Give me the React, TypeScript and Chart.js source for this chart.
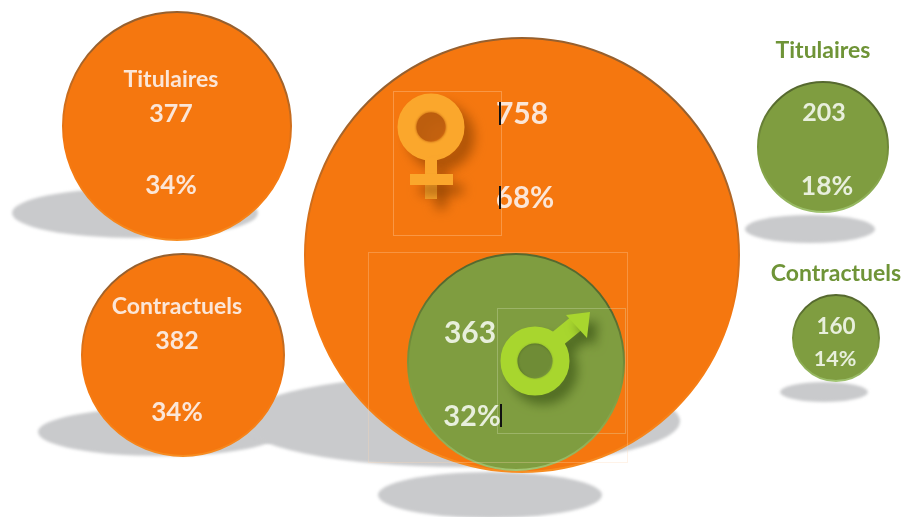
import React, { useEffect, useRef } from "react";
import { Chart, registerables } from "chart.js";

Chart.register(...registerables);

const WIDTH = 902;
const HEIGHT = 517;

// Orange group (women): total, civil servants, contract staff
const femaleLabels = ["Femmes", "Titulaires", "Contractuels"];
const femaleCounts = [758, 377, 382];
const femaleShares = ["68%", "34%", "34%"];
const femaleX = [522, 177, 183];
const femaleY = [255, 126, 355];
const femaleR = [217, 114, 101];

// Green group (men): total, civil servants, contract staff
const maleLabels = ["Hommes", "Titulaires", "Contractuels"];
const maleCounts = [363, 203, 160];
const maleShares = ["32%", "18%", "14%"];
const maleX = [516, 823, 836];
const maleY = [362, 147, 338];
const maleR = [108, 65, 43];

const FONT = "Lato, 'Open Sans', sans-serif";
const ORANGE = "#f5770f";
const GREEN = "#7f9d40";
const ON_ORANGE = "#fbe6d8";
const ON_GREEN = "#e8efdc";
const TITLE_GREEN = "#6f9437";

type Txt = { t: string; x: number; y: number; s: number; c: string };

const texts: Txt[] = [
  { t: femaleLabels[1], x: 171, y: 80, s: 23, c: ON_ORANGE },
  { t: String(femaleCounts[1]), x: 171, y: 114, s: 25, c: ON_ORANGE },
  { t: femaleShares[1], x: 171, y: 186, s: 26, c: ON_ORANGE },
  { t: femaleLabels[2], x: 177, y: 307, s: 23, c: ON_ORANGE },
  { t: String(femaleCounts[2]), x: 177, y: 341, s: 25, c: ON_ORANGE },
  { t: femaleShares[2], x: 177, y: 413, s: 26, c: ON_ORANGE },
  { t: String(femaleCounts[0]), x: 522, y: 114, s: 30, c: ON_ORANGE },
  { t: femaleShares[0], x: 525, y: 198, s: 29.5, c: ON_ORANGE },
  { t: String(maleCounts[0]), x: 470, y: 333, s: 30, c: ON_GREEN },
  { t: maleShares[0], x: 472, y: 417, s: 29, c: ON_GREEN },
  { t: String(maleCounts[1]), x: 824, y: 113, s: 25, c: ON_GREEN },
  { t: maleShares[1], x: 827, y: 186, s: 26.5, c: ON_GREEN },
  { t: String(maleCounts[2]), x: 836, y: 327, s: 22.5, c: ON_GREEN },
  { t: maleShares[2], x: 835, y: 359, s: 21.5, c: ON_GREEN },
  { t: maleLabels[1], x: 823, y: 51, s: 23, c: TITLE_GREEN },
  { t: maleLabels[2], x: 836, y: 274, s: 23, c: TITLE_GREEN },
];

const shadows = [
  [135, 213, 123, 25],
  [160, 432, 122, 24],
  [460, 421, 220, 46],
  [490, 495, 112, 23],
  [810, 229, 65, 14],
  [824, 392, 44, 10],
];

const boxes = [
  [393, 91, 108, 144, "rgba(255,200,150,0.4)"],
  [368, 252, 259, 210, "rgba(255,215,180,0.3)"],
  [497, 308, 128, 125, "rgba(225,235,200,0.3)"],
];

const carets = [
  [500, 102, 125],
  [500, 186, 209],
  [501, 404, 427],
];

function rim(ctx: CanvasRenderingContext2D, cx: number, cy: number, dark: string, mid: string, light: string) {
  const g = ctx.createConicGradient(-Math.PI * 0.75, cx, cy);
  g.addColorStop(0, dark);
  g.addColorStop(0.3, dark);
  g.addColorStop(0.42, mid);
  g.addColorStop(0.62, light);
  g.addColorStop(0.85, mid);
  g.addColorStop(1, dark);
  return g;
}

function drawFemale(ctx: CanvasRenderingContext2D) {
  ctx.save();
  ctx.filter = "blur(0.6px)";
  ctx.shadowColor = "rgba(130,60,0,0.6)";
  ctx.shadowBlur = 12;
  ctx.shadowOffsetX = 10;
  ctx.shadowOffsetY = 10;
  ctx.strokeStyle = "#fba72c";
  ctx.fillStyle = "#fba72c";
  ctx.lineWidth = 19;
  ctx.beginPath();
  ctx.arc(431, 127, 24, 0, Math.PI * 2);
  ctx.stroke();
  ctx.fillRect(425, 158, 12, 41);
  ctx.fillRect(410, 174, 43, 11);
  ctx.restore();
  ctx.save();
  ctx.filter = "blur(1px)";
  ctx.fillStyle = "rgba(190,95,15,0.9)";
  ctx.beginPath();
  ctx.arc(431, 127, 15, 0, Math.PI * 2);
  ctx.fill();
  ctx.restore();
}

function drawMale(ctx: CanvasRenderingContext2D) {
  ctx.save();
  ctx.filter = "blur(0.6px)";
  ctx.shadowColor = "rgba(50,75,15,0.6)";
  ctx.shadowBlur = 11;
  ctx.shadowOffsetX = 8;
  ctx.shadowOffsetY = 9;
  ctx.strokeStyle = "#a8d62e";
  ctx.fillStyle = "#a8d62e";
  ctx.lineWidth = 17;
  ctx.beginPath();
  ctx.arc(535, 361, 26, 0, Math.PI * 2);
  ctx.moveTo(556, 340);
  ctx.lineTo(578, 322);
  ctx.stroke();
  ctx.lineWidth = 1;
  ctx.beginPath();
  ctx.moveTo(566, 315);
  ctx.lineTo(590, 312);
  ctx.lineTo(587, 338);
  ctx.closePath();
  ctx.fill();
  ctx.restore();
  ctx.save();
  ctx.filter = "blur(1px)";
  ctx.fillStyle = "#6f8c36";
  ctx.beginPath();
  ctx.arc(535, 361, 17, 0, Math.PI * 2);
  ctx.fill();
  ctx.restore();
}

const scenery = {
  id: "scenery",
  beforeDatasetsDraw(chart: Chart) {
    const { ctx, scales } = chart;
    ctx.save();
    ctx.filter = "blur(1.5px)";
    ctx.fillStyle = "#c9cacc";
    for (const [x, y, rx, ry] of shadows) {
      ctx.beginPath();
      ctx.ellipse(scales.x.getPixelForValue(x), scales.y.getPixelForValue(y), rx, ry, 0, 0, Math.PI * 2);
      ctx.fill();
    }
    ctx.restore();
  },
  afterDatasetsDraw(chart: Chart) {
    const { ctx } = chart;
    for (const [x, y, w, h, c] of boxes as [number, number, number, number, string][]) {
      ctx.strokeStyle = c;
      ctx.lineWidth = 1;
      ctx.strokeRect(x + 0.5, y + 0.5, w, h);
    }
    drawFemale(ctx);
    drawMale(ctx);
    ctx.save();
    ctx.textAlign = "center";
    ctx.textBaseline = "middle";
    for (const l of texts) {
      ctx.font = `bold ${l.s}px ${FONT}`;
      ctx.fillStyle = l.c;
      ctx.fillText(l.t, l.x, l.y);
    }
    ctx.fillStyle = "#111";
    for (const [x, y0, y1] of carets) ctx.fillRect(x - 1, y0, 2, y1 - y0);
    ctx.restore();
  },
};

function points(xs: number[], ys: number[], rs: number[]) {
  return xs.map((x, i) => ({ x, y: ys[i], r: rs[i] }));
}

export default function App() {
  const ref = useRef<HTMLCanvasElement>(null);
  useEffect(() => {
    document.body.style.margin = "0";
    document.body.style.background = "#fff";
    const canvas = ref.current!;
    const chart = new Chart(canvas, {
      type: "bubble",
      data: {
        datasets: [
          {
            label: "Hommes",
            data: points(maleX, maleY, maleR),
            backgroundColor: GREEN,
            borderWidth: 2,
            clip: false,
            borderColor: (c: any) => {
              const p = c.raw;
              if (!p || !c.chart.chartArea) return GREEN;
              return rim(c.chart.ctx, p.x, p.y, "#56692f", GREEN, "#a3c774");
            },
          },
          {
            label: "Femmes",
            data: points(femaleX, femaleY, femaleR),
            backgroundColor: ORANGE,
            borderWidth: 2,
            clip: false,
            borderColor: (c: any) => {
              const p = c.raw;
              if (!p || !c.chart.chartArea) return ORANGE;
              return rim(c.chart.ctx, p.x, p.y, "#96602f", ORANGE, "#f78e22");
            },
          },
        ],
      },
      options: {
        responsive: false,
        animation: false,
        layout: { padding: 0, autoPadding: false },
        plugins: { legend: { display: false }, tooltip: { enabled: false }, title: { display: false } },
        scales: {
          x: { type: "linear", min: 0, max: WIDTH, display: false },
          y: { type: "linear", min: 0, max: HEIGHT, reverse: true, display: false },
        },
      },
      plugins: [scenery],
    } as any);
    return () => chart.destroy();
  }, []);
  return <canvas ref={ref} width={WIDTH} height={HEIGHT} style={{ display: "block" }} />;
}
